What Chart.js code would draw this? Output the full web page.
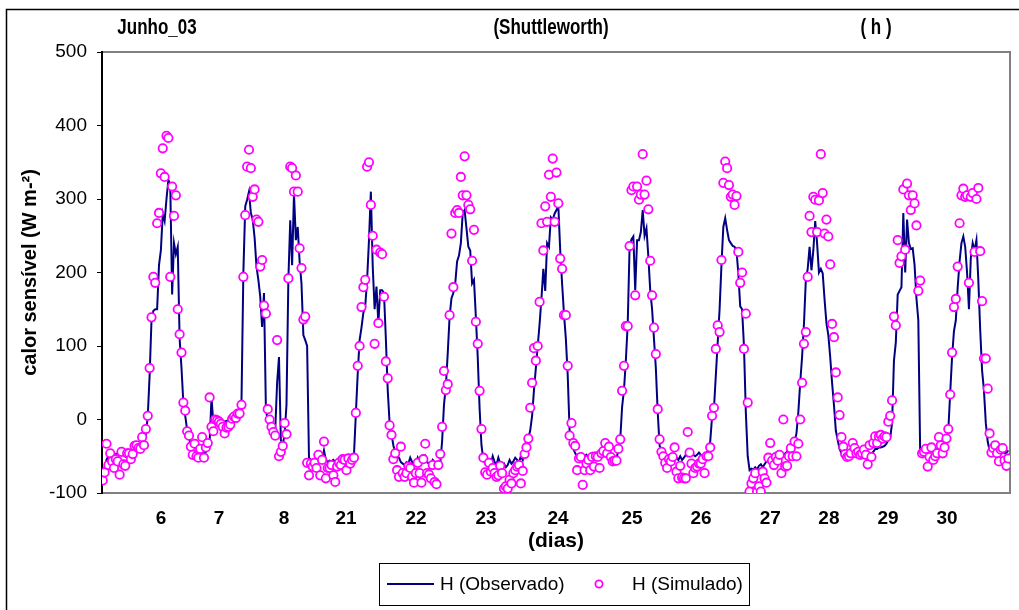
<!DOCTYPE html>
<html><head><meta charset="utf-8">
<script src="https://cdn.jsdelivr.net/npm/chart.js@4.4.1/dist/chart.umd.min.js"></script>
<style>html,body{margin:0;padding:0;background:#fff;}#wrap{width:1019px;height:610px;}</style>
</head><body><div id="wrap"><canvas id="c" width="1019" height="610"></canvas></div>
<script>
const titleParts = ['Junho_03', '(Shuttleworth)', '( h )'];
const yTitle = 'calor sensível (W m-²)';
const xTitle = '(dias)';
const seriesNames = ['H (Observado)', 'H (Simulado)'];
const dayLabels = ['6','7','8','21','22','23','24','25','26','27','28','29','30'];
const dayTickPos = [31.1,62,96.7,129.8,167.1,204.4,242.8,282.3,319.1,356,387.3,418.8,450.3];

const observed = [
-73,-65,-55,-50,-48,-46,-48,-47,-46,-45,-45,-44,-44,-43,-42,-42,-40,-40,-38,-37,-36,-33,-30,-20,
4,60,135,148,150,150,210,230,280,270,300,326,320,170,240,225,235,110,70,22,5,-14,-25,-35,
-42,-45,-47,-47,-46,-46,-45,-44,-40,-30,30,-5,-5,-2,0,-1,-2,-3,-2,-1,0,2,4,8,
12,15,25,200,290,299,310,281,272,247,208,190,167,126,172,17,-5,-8,-10,-12,-14,50,85,-28,
-35,-20,20,190,271,210,307,244,262,215,185,115,108,100,-52,-55,-57,-55,-58,-56,-57,-55,-42,-55,
-58,-56,-57,-55,-58,-55,-52,-56,-50,-52,-50,-48,-50,-52,-48,8,63,108,125,145,154,190,244,310,
208,150,181,131,176,176,172,110,40,-5,-20,-35,-46,-50,-52,-58,-60,-62,-58,-60,-52,-58,-62,-60,
-52,-58,-60,-56,-50,-58,-60,-62,-55,-58,-62,-65,-60,-30,20,45,90,140,165,172,185,215,223,240,
281,285,260,235,230,185,190,140,85,15,-35,-55,-60,-58,-55,-60,-50,-58,-62,-52,-60,-62,-60,-65,
-62,-55,-60,-57,-52,-55,-58,-50,-55,-43,-33,-25,-15,5,40,70,100,130,165,205,175,240,235,275,
272,280,285,290,230,185,144,110,60,-15,-28,-40,-46,-50,-52,-48,-52,-50,-48,-52,-50,-46,-52,-50,
-48,-52,-50,-47,-45,-50,-48,-52,-52,-55,-55,-40,-28,17,40,80,130,235,245,249,176,244,244,255,
285,250,260,222,176,150,110,70,10,-35,-46,-50,-52,-55,-50,-52,-55,-55,-52,-55,-50,-55,-52,-48,
-50,-48,-45,-48,-50,-48,-45,-48,-50,-46,-45,-42,-30,4,15,60,105,150,210,262,274,258,244,240,
236,235,230,199,154,150,100,10,-50,-69,-67,-68,-65,-68,-63,-61,-65,-61,-57,-55,-48,-50,-52,-46,
-50,-46,-48,-50,-46,-44,-40,-38,-35,-30,-19,10,50,85,130,190,205,235,203,230,270,240,200,205,
199,163,131,115,85,50,20,-15,-28,-40,-46,-46,-48,-47,-45,-46,-44,-46,-44,-45,-46,-44,-45,-46,
-48,-45,-46,-44,-40,-40,-38,-38,-37,-36,-33,-28,-25,-5,80,105,170,175,180,281,200,272,240,232,
233,210,165,135,-46,-44,-42,-45,-42,-44,-42,-40,-44,-40,-42,-40,-38,-38,-30,-14,36,85,120,135,
180,215,240,249,235,200,150,220,240,230,244,190,122,67,40,-5,-30,-42,-44,-45,-42,-44,-46,-45,
-44,-46,-45,-42
];

const simulated = [
-83,-72,-33,-62,-46,-57,-66,-54,-57,-75,-44,-61,-63,-46,-46,-54,-47,-36,-35,-39,-40,-24,-35,-13,
5,70,139,194,186,267,281,335,369,330,386,383,194,317,277,305,150,116,91,23,12,-16,-22,-37,
-48,-33,-50,-52,-40,-24,-52,-38,-32,30,-10,-16,0,-1,-3,-6,-10,-19,-11,-10,-7,1,4,2,
8,8,20,194,278,344,367,342,303,313,272,269,208,217,155,144,14,0,-10,-17,-22,108,-50,-44,
-36,-5,-20,192,344,342,310,332,310,233,206,136,140,-59,-76,-60,-64,-59,-66,-48,-76,-55,-30,-80,
-66,-66,-62,-76,-85,-64,-59,-62,-54,-55,-69,-53,-60,-55,-52,9,73,100,153,180,190,344,350,292,
250,103,231,131,227,225,167,79,56,-8,-21,-54,-46,-69,-78,-37,-73,-78,-73,-64,-66,-78,-86,-73,
-59,-73,-86,-54,-33,-73,-75,-80,-62,-85,-88,-62,-47,-10,66,40,48,142,253,180,281,285,281,330,
305,358,305,292,286,216,258,133,103,39,-13,-52,-72,-75,-59,-71,-66,-73,-78,-76,-63,-73,-94,-91,
-94,-82,-87,-73,-69,-64,-62,-87,-70,-47,-38,-26,16,50,97,80,100,160,267,230,290,269,333,303,
355,269,336,294,219,205,142,142,73,-22,-5,-32,-36,-69,-53,-51,-89,-69,-60,-55,-69,-51,-64,-50,
-51,-66,-46,-43,-32,-46,-37,-51,-57,-56,-56,-40,-27,39,73,127,127,236,312,317,169,317,299,306,
361,306,325,286,216,169,125,89,14,-27,-44,-50,-59,-66,-54,-57,-51,-38,-71,-80,-63,-79,-80,-80,
-17,-45,-60,-73,-66,-64,-60,-60,-54,-73,-50,-50,-38,5,16,96,128,119,217,322,351,342,319,303,
306,292,304,228,186,200,96,144,23,-98,-87,-80,-73,-98,-91,-98,-71,-80,-86,-52,-32,-56,-62,-51,
-56,-48,-73,0,-64,-63,-50,-39,-50,-30,-50,-33,0,50,103,119,194,277,255,303,299,255,298,361,
308,253,272,249,211,130,112,64,30,6,-24,-37,-47,-51,-50,-46,-32,-39,-46,-44,-48,-46,-41,-48,
-61,-35,-51,-32,-23,-32,-23,-21,-26,-23,-24,-3,5,26,140,128,244,213,222,313,231,321,305,285,
305,294,264,175,189,-46,-44,-40,-64,-51,-38,-55,-50,-46,-24,-35,-46,-38,-26,-13,34,91,153,164,
208,267,305,314,303,305,186,303,308,228,300,315,229,161,83,83,42,-19,-45,-39,-35,-46,-57,-41,
-39,-56,-63,-53
];

const FONT = '"Liberation Sans", Arial, Helvetica, sans-serif';
const LINE_COLOR = '#000080';
const MARK_COLOR = '#FF00FF';

const decor = {
  id: 'decor',
  beforeDraw(chart) {
    const {ctx, chartArea: a} = chart;
    ctx.save();
    ctx.fillStyle = '#fff';
    ctx.fillRect(0, 0, chart.width, chart.height);
    ctx.strokeStyle = '#000';
    ctx.lineWidth = 1.5;
    ctx.beginPath();
    ctx.moveTo(6.5, 612); ctx.lineTo(6.5, 9.5); ctx.lineTo(1021, 9.5);
    ctx.stroke();
    ctx.strokeStyle = '#808080';
    ctx.lineWidth = 2;
    ctx.strokeRect(a.left, a.top, a.right - a.left, a.bottom - a.top);
    ctx.restore();
  },
  afterDraw(chart) {
    const ctx = chart.ctx;
    ctx.save();
    ctx.fillStyle = '#000';
    ctx.textBaseline = 'middle';
    ctx.textAlign = 'center';
    ctx.font = 'bold 17px ' + FONT;
    const tx = [157, 551, 876];
    titleParts.forEach((t, i) => {
      ctx.save();
      ctx.translate(tx[i], 28);
      ctx.scale(1, 1.3);
      ctx.fillText(t, 0, 0);
      ctx.restore();
    });
    // legend
    const ds = chart.data.datasets;
    ctx.strokeStyle = '#000';
    ctx.lineWidth = 1;
    ctx.strokeRect(379.5, 563.5, 370, 42);
    const ly = 584;
    ctx.strokeStyle = ds[0].borderColor;
    ctx.lineWidth = 2;
    ctx.beginPath(); ctx.moveTo(387, ly); ctx.lineTo(434, ly); ctx.stroke();
    ctx.strokeStyle = ds[1].borderColor;
    ctx.lineWidth = 1.8;
    ctx.fillStyle = '#fff';
    ctx.beginPath(); ctx.arc(599, ly, 3.6, 0, Math.PI * 2); ctx.fill(); ctx.stroke();
    ctx.fillStyle = '#000';
    ctx.textAlign = 'left';
    ctx.font = '19px ' + FONT;
    ctx.fillText(seriesNames[0], 440, ly + 1);
    ctx.fillText(seriesNames[1], 632, ly + 1);
    ctx.restore();
  }
};

new Chart(document.getElementById('c'), {
  type: 'line',
  data: {
    datasets: [
      {
        label: seriesNames[0],
        data: observed.map((v, i) => ({x: i, y: v})),
        borderColor: LINE_COLOR,
        borderWidth: 2,
        pointRadius: 0,
        tension: 0,
        fill: false,
        order: 2
      },
      {
        label: seriesNames[1],
        data: simulated.map((v, i) => ({x: i, y: v})),
        showLine: false,
        borderColor: MARK_COLOR,
        backgroundColor: '#fff',
        pointBackgroundColor: '#fff',
        pointBorderColor: MARK_COLOR,
        pointBorderWidth: 1.8,
        pointRadius: 4.2,
        order: 1
      }
    ]
  },
  options: {
    responsive: false,
    animation: false,
    devicePixelRatio: 1,
    layout: {padding: {left: 0, right: 9, top: 52, bottom: 0}},
    plugins: {legend: {display: false}, tooltip: {enabled: false}, title: {display: false}},
    scales: {
      x: {
        type: 'linear',
        min: -0.4,
        max: 483.9,
        grid: {display: false},
        border: {color: '#808080', width: 2},
        afterFit(s) { s.height = 117; },
        afterBuildTicks(s) { s.ticks = dayTickPos.map(v => ({value: v})); },
        ticks: {
          autoSkip: false,
          maxRotation: 0,
          padding: 6,
          color: '#000',
          font: {family: FONT, size: 19, weight: 'bold'},
          callback: (v, i) => dayLabels[i]
        },
        title: {
          display: true,
          text: xTitle,
          color: '#000',
          font: {family: FONT, size: 21, weight: 'bold'},
          padding: {top: 0, bottom: 56}
        }
      },
      y: {
        min: -100,
        max: 500,
        ticks: {stepSize: 100, color: '#000', padding: 10, font: {family: FONT, size: 19}},
        grid: {display: true, drawOnChartArea: false, drawTicks: true, tickLength: 5, tickColor: '#000', tickWidth: 1},
        border: {color: '#000', width: 2},
        afterFit(s) { s.width = 102; },
        title: {
          display: true,
          text: yTitle,
          color: '#000',
          font: {family: FONT, size: 20, weight: 'bold'},
          padding: {top: 18, bottom: 0}
        }
      }
    }
  },
  plugins: [decor]
});
</script></body></html>
